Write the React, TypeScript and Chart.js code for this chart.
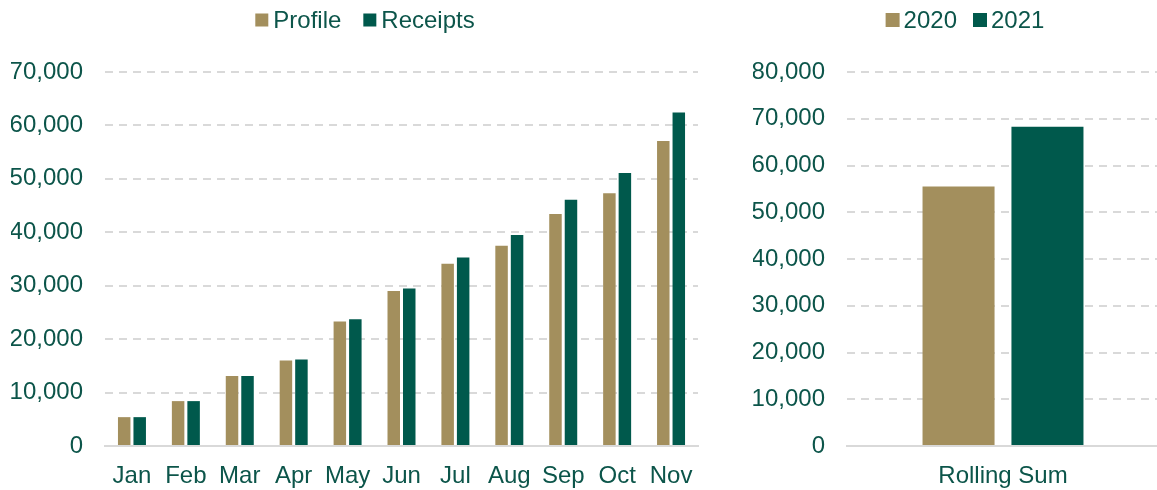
import React, { useEffect, useRef } from "react";
import { Chart, registerables } from "chart.js";

Chart.register(...registerables);

// ---- Data ----
const months = ["Jan", "Feb", "Mar", "Apr", "May", "Jun", "Jul", "Aug", "Sep", "Oct", "Nov"];
const profileValues = [5400, 8400, 13100, 16000, 23300, 29000, 34100, 37500, 43400, 47300, 57100];
const receiptsValues = [5400, 8400, 13100, 16200, 23700, 29500, 35300, 39500, 46100, 51100, 62400];

const rollingCategories = ["Rolling Sum"];
const rolling2020 = [55500];
const rolling2021 = [68300];

const leftSeriesLabels = ["Profile", "Receipts"];
const rightSeriesLabels = ["2020", "2021"];

// ---- Styles ----
const TAN = "#A38F5D";
const GREEN = "#00594C";
const TEXT = "#0C554A";
const GRID = "#D9D9D9";
const FONT_FAMILY = '"Liberation Sans", Arial, Helvetica, sans-serif';
const FONT_SIZE = 24;

const legendPlugin = {
  id: "customLegend",
  afterDraw(chart: any, _args: any, opts: any) {
    const ctx = chart.ctx;
    const items = chart.data.datasets.map((d: any) => ({ label: d.label, color: d.backgroundColor }));
    ctx.save();
    ctx.font = `${FONT_SIZE}px ${FONT_FAMILY}`;
    const box = opts.box ?? 13;
    const gapText = opts.gapText ?? 5;
    const gapItem = opts.gapItem ?? 22;
    const widths = items.map((it: any) => box + gapText + ctx.measureText(it.label).width);
    const total = widths.reduce((a: number, b: number) => a + b, 0) + gapItem * (items.length - 1);
    let x = chart.width / 2 - total / 2;
    const y = opts.y ?? 20;
    ctx.textBaseline = "middle";
    ctx.textAlign = "left";
    items.forEach((it: any, i: number) => {
      ctx.fillStyle = it.color;
      ctx.fillRect(x, y - box / 2, box, box);
      ctx.fillStyle = TEXT;
      ctx.fillText(it.label, x + box + gapText, y + 1);
      x += widths[i] + gapItem;
    });
    ctx.restore();
  },
};

function makeOptions(
  max: number,
  padding: any,
  catPct: number,
  barPct: number,
  box: number,
  gapText: number,
  gapItem: number,
  yWidth: number
) {
  return {
    responsive: false,
    animation: false as const,
    layout: { padding },
    datasets: { bar: { categoryPercentage: catPct, barPercentage: barPct } },
    plugins: {
      legend: { display: false },
      tooltip: { enabled: false },
      customLegend: { box, gapText, gapItem, y: 20 },
    },
    scales: {
      x: {
        grid: { display: false, drawTicks: false },
        border: { display: true, color: GRID, width: 2 },
        ticks: { color: TEXT, padding: 16, maxRotation: 0, font: { size: FONT_SIZE, family: FONT_FAMILY } },
        afterFit: (scale: any) => {
          scale.height = 44;
        },
      },
      y: {
        min: 0,
        max,
        grid: {
          color: (c: any) => (c.tick && c.tick.value === 0 ? "rgba(0,0,0,0)" : GRID),
          lineWidth: 2,
          drawTicks: false,
        },
        border: { display: false, dash: [8, 6] },
        ticks: {
          stepSize: 10000,
          color: TEXT,
          padding: 22,
          font: { size: FONT_SIZE, family: FONT_FAMILY },
          callback: (v: any) => Number(v).toLocaleString("en-US"),
        },
        afterFit: (scale: any) => {
          scale.width = yWidth;
        },
      },
    },
  };
}

export default function App() {
  const leftRef = useRef<HTMLCanvasElement>(null);
  const rightRef = useRef<HTMLCanvasElement>(null);

  useEffect(() => {
    Chart.defaults.font.family = FONT_FAMILY;
    const leftOpts: any = makeOptions(70000, { top: 72, left: 11, right: 32, bottom: 0 }, 0.575, 0.806, 13, 5, 22, 94);
    const left = new Chart(leftRef.current!, {
      type: "bar",
      data: {
        labels: months,
        datasets: [
          { label: leftSeriesLabels[0], data: profileValues, backgroundColor: TAN },
          { label: leftSeriesLabels[1], data: receiptsValues, backgroundColor: GREEN },
        ],
      },
      options: leftOpts,
      plugins: [legendPlugin],
    });

    const rightOpts: any = makeOptions(80000, { top: 72, left: 8, right: 26, bottom: 0 }, 0.57, 0.81, 14, 4, 16, 94);
    const right = new Chart(rightRef.current!, {
      type: "bar",
      data: {
        labels: rollingCategories,
        datasets: [
          { label: rightSeriesLabels[0], data: rolling2020, backgroundColor: TAN },
          { label: rightSeriesLabels[1], data: rolling2021, backgroundColor: GREEN },
        ],
      },
      options: rightOpts,
      plugins: [legendPlugin],
    });
    return () => {
      left.destroy();
      right.destroy();
    };
  }, []);

  return (
    <div style={{ position: "fixed", left: 0, top: 0, width: 1157, height: 490, overflow: "hidden", background: "#fff" }}>
      <canvas ref={leftRef} width={730} height={490} style={{ position: "absolute", left: 0, top: 0 }} />
      <canvas ref={rightRef} width={440} height={490} style={{ position: "absolute", left: 745, top: 0 }} />
    </div>
  );
}
